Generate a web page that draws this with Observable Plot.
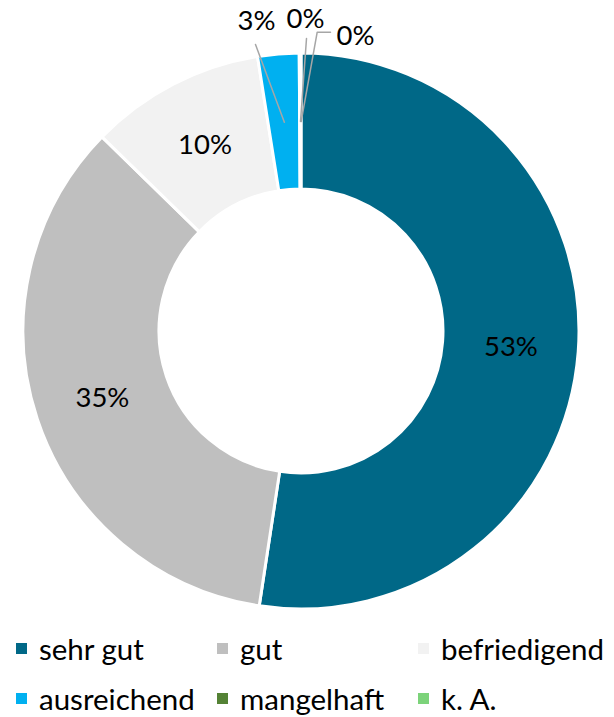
<!DOCTYPE html>
<html>
<head>
<meta charset="utf-8">
<script src="https://cdn.jsdelivr.net/npm/d3@7"></script>
<script src="https://cdn.jsdelivr.net/npm/@observablehq/plot@0.6"></script>
<style>
  html, body { margin: 0; padding: 0; background: #fff; overflow: hidden; }
  body { width: 614px; height: 717px; font-family: Lato, "Open Sans", sans-serif; }
  #chart svg { display: block; }
  div.lg-swatches {
    display: grid !important;
    grid-template-columns: 201px 201px 201px;
    padding-left: 16px;
    margin: 0 !important;
    font-family: Lato, sans-serif !important;
    font-size: 29.5px !important;
    color: #000;
  }
  .lg-swatch {
    display: flex !important;
    align-items: center;
    height: 50px;
    margin: 0 !important;
    white-space: nowrap;
  }
  .lg-swatch > svg { margin-right: 12px !important; }
</style>
</head>
<body>
<div id="chart"></div>
<script>
// ---- data ----
const categories = ["sehr gut", "gut", "befriedigend", "ausreichend", "mangelhaft", "k. A."];
const values = [52.4, 34.9, 10.2, 2.4, 0.05, 0.05];
const labels = ["53%", "35%", "10%", "3%", "0%", "0%"];
const colors = ["#006887", "#BFBFBF", "#F2F2F2", "#00B0F0", "#548235", "#7CD37A"];

// ---- layout ----
const W = 614, H = 623;
const CX = 301, CY = 331, R_OUT = 278, R_IN = 142;
const R_MID = (R_OUT + R_IN) / 2;
// outside label placement (offsets from centre) for the thin slices
const outside = {
  "ausreichend": {label: [-45, -310], path: [[-46, -287]]},
  "mangelhaft":  {label: [4, -312],   path: [[5, -293]]},
  "k. A.":       {label: [54, -295],  path: [[29, -299.3], [15.7, -299.3]]}
};

const color = Plot.scale({color: {type: "ordinal", domain: categories, range: colors}});

const slices = categories.map((name, i) => ({name, value: values[i], label: labels[i]}));
const arcs = d3.pie().sort(null).value(d => d.value)(slices).map(p => ({
  ...p.data, startAngle: p.startAngle, endAngle: p.endAngle,
  mid: (p.startAngle + p.endAngle) / 2
}));

const labelData = arcs.map(a => {
  const o = outside[a.name];
  if (o) return {name: a.name, text: a.label, x: CX + o.label[0], y: CY + o.label[1]};
  return {name: a.name, text: a.label, x: CX + R_MID * Math.sin(a.mid), y: CY - R_MID * Math.cos(a.mid)};
});

const leaderData = [];
arcs.forEach(a => {
  const o = outside[a.name];
  if (!o) return;
  o.path.forEach(([dx, dy]) => leaderData.push({name: a.name, x: CX + dx, y: CY + dy}));
  leaderData.push({name: a.name, x: CX + R_MID * Math.sin(a.mid), y: CY - R_MID * Math.cos(a.mid)});
});

function donut(index, scales, values, dims) {
  const x = scales.x, y = scales.y;
  const X = x(CX), Y = y(CY);
  const rO = x(CX + R_OUT) - X, rI = x(CX + R_IN) - X;
  const arc = d3.arc().innerRadius(rI).outerRadius(rO);
  const g = d3.create("svg:g").attr("transform", `translate(${X},${Y})`);
  g.selectAll("path").data(arcs).join("path")
    .attr("d", arc)
    .attr("fill", d => color.apply(d.name))
    .attr("stroke", "#fff")
    .attr("stroke-width", 3)
    .attr("stroke-linejoin", "round");
  return g.node();
}

const chart = Plot.plot({
  width: W, height: H, margin: 0,
  style: {fontFamily: "Lato, sans-serif", background: "#fff", overflow: "visible"},
  x: {domain: [0, W], range: [0, W], axis: null},
  y: {domain: [0, H], range: [0, H], axis: null},
  marks: [
    donut,
    Plot.line(leaderData, {x: "x", y: "y", z: "name", stroke: "#A6A6A6", strokeWidth: 1.5}),
    Plot.text(labelData, {x: "x", y: "y", text: "text", fontSize: 27.5, fill: "#000"})
  ]
});

const legend = Plot.legend({
  color: {type: "ordinal", domain: categories, range: colors},
  legend: "swatches",
  swatchSize: 11,
  className: "lg"
});

const root = document.getElementById("chart");
root.appendChild(chart);
root.appendChild(legend);
</script>
</body>
</html>
